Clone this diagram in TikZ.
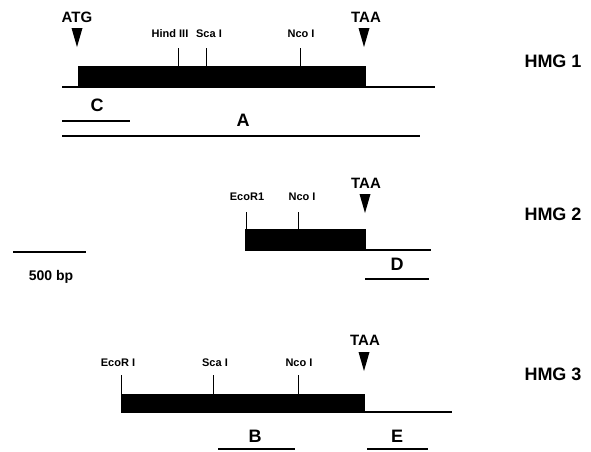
\documentclass[tikz,border=0pt]{standalone}
\usepackage{fontspec}
\setmainfont{Liberation Sans}
\begin{document}
\begin{tikzpicture}[x=1pt,y=-1pt,
  dna/.style={line width=1.6pt},
  frag/.style={line width=1.8pt},
  exon/.style={fill=black,draw=black},
  site/.style={line width=0.8pt},
  sitelab/.style={font=\fontsize{11}{12}\selectfont\bfseries,inner sep=0pt},
  codon/.style={font=\fontsize{15}{16}\selectfont\bfseries,inner sep=0pt},
  fraglab/.style={font=\fontsize{18}{19}\selectfont\bfseries,inner sep=0pt},
  genelab/.style={font=\fontsize{18}{19}\selectfont\bfseries,inner sep=0pt},
  tri/.style={fill=black}]
\useasboundingbox (0,0) rectangle (591,451);
% marker triangle pointing down at x, tip at y
\newcommand{\downmark}[2]{\fill (#1-5.5,#2-19) -- (#1+5.5,#2-19) -- (#1,#2) -- cycle;}

% ---------- HMG 1 ----------
\coordinate (g1l) at (62,87);
\coordinate (g1r) at (435,87);
\draw[dna] (g1l) -- (g1r);
\fill[exon] (78,66) rectangle (365,87);
\downmark{77}{47}
\node[codon] (atg1) at (77,17) {ATG};
\downmark{364}{47}
\node[codon] (taa1) at (366,17) {TAA};
\draw[site] (178,48) -- (178,66);
\node[sitelab] (hind1) at (170,34) {Hind III};
\draw[site] (206,48) -- (206,66);
\node[sitelab] (sca1) at (209,34) {Sca I};
\draw[site] (300,48) -- (300,66);
\node[sitelab] (nco1) at (301,34) {Nco I};
\coordinate (c0) at (62,121); \coordinate (c1) at (130,121);
\draw[frag] (c0) -- (c1);
\node[fraglab] (C) at (97,105) {C};
\coordinate (a0) at (62,136); \coordinate (a1) at (420,136);
\draw[frag] (a0) -- (a1);
\node[fraglab] (A) at (243,120) {A};
\node[genelab] (hmg1) at (553,61) {HMG 1};

% ---------- HMG 2 ----------
\coordinate (g2l) at (245,250);
\coordinate (g2r) at (431,250);
\draw[dna] (g2l) -- (g2r);
\fill[exon] (245,229) rectangle (365,250);
\draw[site] (246,212) -- (246,229);
\node[sitelab] (eco2) at (247,197) {EcoR1};
\draw[site] (298,212) -- (298,229);
\node[sitelab] (nco2) at (302,197) {Nco I};
\downmark{365}{213}
\node[codon] (taa2) at (366,183) {TAA};
\coordinate (d0) at (365,279); \coordinate (d1) at (429,279);
\draw[frag] (d0) -- (d1);
\node[fraglab] (D) at (397,264) {D};
\node[genelab] (hmg2) at (553,214) {HMG 2};

% scale bar
\coordinate (s0) at (13,252); \coordinate (s1) at (86,252);
\draw[dna] (s0) -- (s1);
\node[font=\fontsize{14}{15}\selectfont\bfseries,inner sep=0pt] (bp) at (51,277) {500 bp};

% ---------- HMG 3 ----------
\coordinate (g3l) at (121,412);
\coordinate (g3r) at (452,412);
\draw[dna] (g3l) -- (g3r);
\fill[exon] (121,394) rectangle (364,412);
\draw[site] (121,375) -- (121,394);
\node[sitelab] (eco3) at (118,363) {EcoR I};
\draw[site] (213,375) -- (213,394);
\node[sitelab] (sca3) at (215,363) {Sca I};
\draw[site] (298,375) -- (298,394);
\node[sitelab] (nco3) at (299,363) {Nco I};
\downmark{364}{371}
\node[codon] (taa3) at (365,340) {TAA};
\coordinate (b0) at (218,449); \coordinate (b1) at (295,449);
\draw[frag] (b0) -- (b1);
\node[fraglab] (B) at (255,436) {B};
\coordinate (e0) at (367,449); \coordinate (e1) at (428,449);
\draw[frag] (e0) -- (e1);
\node[fraglab] (E) at (397,436) {E};
\node[genelab] (hmg3) at (553,374) {HMG 3};
\end{tikzpicture}
\end{document}
